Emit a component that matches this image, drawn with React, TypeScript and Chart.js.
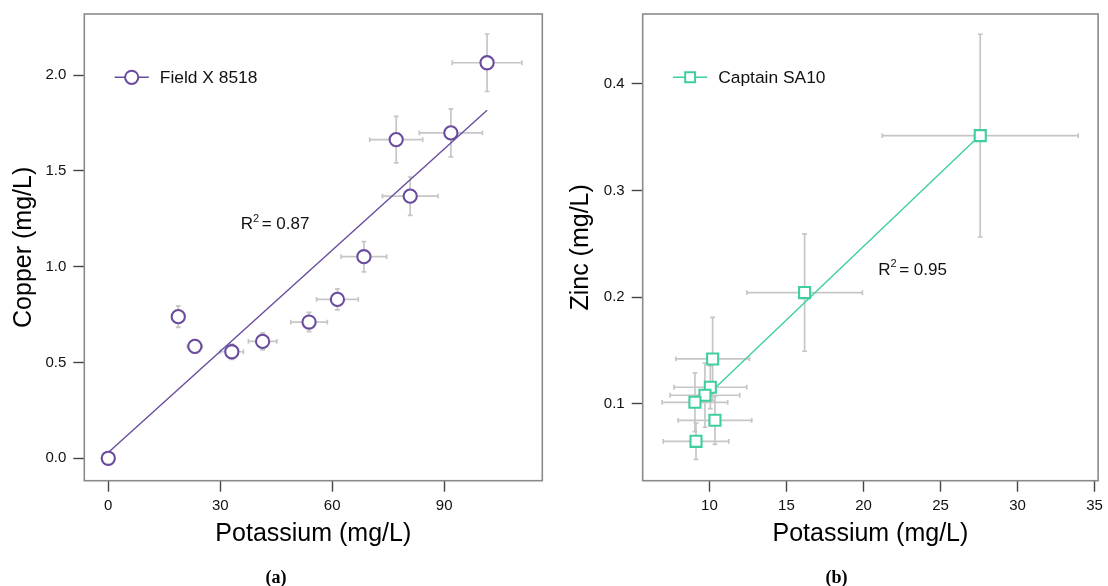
import React, { useEffect, useRef } from "react";
import { Chart, registerables } from "chart.js";

Chart.register(...registerables);

// ---------- Panel (a): Field X 8518 ----------
const copperLabel = "Field X 8518";
const copperK = [0, 18.75, 23.2, 33.1, 41.35, 53.8, 61.4, 68.5, 77.15, 80.9, 91.8, 101.5];
const copperVal = [0, 0.739, 0.584, 0.556, 0.61, 0.711, 0.829, 1.052, 1.663, 1.368, 1.698, 2.064];
const copperKErr = [0, 1.0, 2.0, 3.1, 3.8, 4.9, 5.6, 6.1, 7.1, 7.45, 8.44, 9.33];
const copperValErr = [0, 0.056, 0.035, 0.04, 0.044, 0.05, 0.055, 0.079, 0.121, 0.1, 0.125, 0.15];
const copperFitK = [0, 101.5];
const copperFitVal = [0.03, 1.816];
const copperXTicks = [0, 30, 60, 90];
const copperYTicks = [0, 0.5, 1.0, 1.5, 2.0];
const copperR2 = "0.87";

// ---------- Panel (b): Captain SA10 ----------
const zincLabel = "Captain SA10";
const zincK = [27.58, 16.18, 10.21, 10.06, 9.71, 9.06, 10.36, 9.13];
const zincVal = [0.3515, 0.2044, 0.1422, 0.1157, 0.1082, 0.1016, 0.0847, 0.065];
const zincKErr = [6.36, 3.75, 2.39, 2.36, 2.26, 2.13, 2.39, 2.13];
const zincValErr = [0.095, 0.055, 0.039, 0.02, 0.03, 0.0275, 0.0225, 0.017];
const zincFitK = [9.06, 27.58];
const zincFitVal = [0.097, 0.352];
const zincXTicks = [10, 15, 20, 25, 30, 35];
const zincYTicks = [0.1, 0.2, 0.3, 0.4];
const zincR2 = "0.95";

const FONT = '"Liberation Sans", Arial, Helvetica, sans-serif';

type PanelProps = {
  left: number;
  width: number;
  height: number;
  xs: number[];
  ys: number[];
  xErr: number[];
  yErr: number[];
  fitX: number[];
  fitY: number[];
  color: string;
  pointStyle: "circle" | "rect";
  pointRadius: number;
  legendRadius: number;
  label: string;
  xTitle: string;
  yTitle: string;
  xMin: number;
  xMax: number;
  yMin: number;
  yMax: number;
  xTicks: number[];
  yTicks: number[];
  xDecimals: number;
  yDecimals: number;
  r2: string;
  r2X: number;
  r2Y: number;
  yAxisWidth: number;
  padRight: number;
  padTop: number;
  xAxisHeight: number;
  yTitlePad: number;
  xTitlePad: number;
  caption: string;
  captionX: number;
};

function Panel(p: PanelProps) {
  const ref = useRef<HTMLCanvasElement | null>(null);

  useEffect(() => {
    if (!ref.current) return;
    const ctx0 = ref.current.getContext("2d");
    if (!ctx0) return;

    const errorBars = {
      id: "errorBars",
      beforeDatasetsDraw(chart: any) {
        const { ctx, chartArea, scales } = chart;
        const sx = scales.x;
        const sy = scales.y;
        ctx.save();
        ctx.beginPath();
        ctx.rect(chartArea.left, chartArea.top, chartArea.right - chartArea.left, chartArea.bottom - chartArea.top);
        ctx.clip();
        ctx.strokeStyle = "#c6c6c6";
        ctx.lineWidth = 1.7;
        const cap = 2.4;
        for (let i = 0; i < p.xs.length; i++) {
          const cx = sx.getPixelForValue(p.xs[i]);
          const cy = sy.getPixelForValue(p.ys[i]);
          if (p.xErr[i] > 0) {
            const x1 = sx.getPixelForValue(p.xs[i] - p.xErr[i]);
            const x2 = sx.getPixelForValue(p.xs[i] + p.xErr[i]);
            ctx.beginPath();
            ctx.moveTo(x1, cy);
            ctx.lineTo(x2, cy);
            ctx.moveTo(x1, cy - cap);
            ctx.lineTo(x1, cy + cap);
            ctx.moveTo(x2, cy - cap);
            ctx.lineTo(x2, cy + cap);
            ctx.stroke();
          }
          if (p.yErr[i] > 0) {
            const y1 = sy.getPixelForValue(p.ys[i] - p.yErr[i]);
            const y2 = sy.getPixelForValue(p.ys[i] + p.yErr[i]);
            ctx.beginPath();
            ctx.moveTo(cx, y1);
            ctx.lineTo(cx, y2);
            ctx.moveTo(cx - cap, y1);
            ctx.lineTo(cx + cap, y1);
            ctx.moveTo(cx - cap, y2);
            ctx.lineTo(cx + cap, y2);
            ctx.stroke();
          }
        }
        ctx.restore();
      },
    };

    const drawMarker = (ctx: CanvasRenderingContext2D, x: number, y: number, r: number) => {
      ctx.save();
      ctx.fillStyle = "#ffffff";
      ctx.strokeStyle = p.color;
      ctx.lineWidth = 2;
      ctx.beginPath();
      if (p.pointStyle === "circle") {
        ctx.arc(x, y, r, 0, Math.PI * 2);
      } else {
        const s = r * Math.SQRT1_2;
        ctx.rect(x - s, y - s, 2 * s, 2 * s);
      }
      ctx.fill();
      ctx.stroke();
      ctx.restore();
    };

    const decorations = {
      id: "decorations",
      afterDatasetsDraw(chart: any) {
        const { ctx, chartArea, scales } = chart;
        // frame
        ctx.save();
        ctx.strokeStyle = "#8a8a8a";
        ctx.lineWidth = 1.6;
        ctx.strokeRect(chartArea.left, chartArea.top, chartArea.right - chartArea.left, chartArea.bottom - chartArea.top);
        ctx.restore();

        // legend
        const ly = chartArea.top + 63.3;
        const lx1 = chartArea.left + 30.3;
        const lx2 = chartArea.left + 64.5;
        ctx.save();
        ctx.strokeStyle = p.color;
        ctx.lineWidth = 1.4;
        ctx.beginPath();
        ctx.moveTo(lx1, ly);
        ctx.lineTo(lx2, ly);
        ctx.stroke();
        ctx.restore();
        drawMarker(ctx, (lx1 + lx2) / 2, ly, p.legendRadius);
        ctx.save();
        ctx.fillStyle = "#111";
        ctx.font = `17.4px ${FONT}`;
        ctx.textAlign = "left";
        ctx.textBaseline = "middle";
        ctx.fillText(p.label, chartArea.left + 75.5, ly + 0.5);
        ctx.restore();

        // R^2 annotation
        const rx = scales.x.getPixelForValue(p.r2X);
        const ry = scales.y.getPixelForValue(p.r2Y);
        const base = ry + 6.5;
        ctx.save();
        ctx.fillStyle = "#111";
        ctx.textAlign = "left";
        ctx.textBaseline = "alphabetic";
        ctx.font = `17px ${FONT}`;
        ctx.fillText("R", rx, base);
        let cx = rx + ctx.measureText("R").width;
        ctx.font = `11px ${FONT}`;
        ctx.fillText("2", cx, base - 7.5);
        cx += ctx.measureText("2").width + 2.5;
        ctx.font = `17px ${FONT}`;
        ctx.fillText("= " + p.r2, cx, base);
        ctx.restore();
      },
    };

    const tickFont = { family: FONT, size: 15 };
    const titleFont = { family: FONT, size: 25 };

    const chart = new Chart(ctx0, {
      type: "scatter",
      data: {
        datasets: [
          {
            label: p.label,
            data: p.xs.map((x, i) => ({ x, y: p.ys[i] })),
            pointStyle: p.pointStyle,
            pointRadius: p.pointRadius,
            pointHoverRadius: p.pointRadius,
            borderColor: p.color,
            backgroundColor: "#ffffff",
            pointBorderWidth: 2.1,
            borderWidth: 2.1,
            showLine: false,
          },
          {
            label: "fit",
            data: p.fitX.map((x, i) => ({ x, y: p.fitY[i] })),
            showLine: true,
            pointRadius: 0,
            pointHoverRadius: 0,
            borderColor: p.color,
            backgroundColor: p.color,
            borderWidth: 1.4,
            fill: false,
          },
        ],
      },
      options: {
        responsive: false,
        animation: false,
        events: [],
        layout: { padding: { left: 0, top: p.padTop, right: p.padRight, bottom: 0 } },
        plugins: { legend: { display: false }, tooltip: { enabled: false } },
        scales: {
          x: {
            type: "linear",
            min: p.xMin,
            max: p.xMax,
            afterBuildTicks: (s: any) => {
              s.ticks = p.xTicks.map((v) => ({ value: v }));
            },
            afterFit: (s: any) => {
              s.height = p.xAxisHeight;
              s.paddingLeft = 0;
              s.paddingRight = 0;
              s.paddingTop = 0;
              s.paddingBottom = 0;
            },
            grid: {
              display: true,
              drawOnChartArea: false,
              drawTicks: true,
              tickLength: 11,
              tickColor: "#444",
              tickWidth: 1.4,
            },
            border: { display: false },
            ticks: {
              autoSkip: false,
              maxRotation: 0,
              padding: 5,
              color: "#111",
              font: tickFont,
              callback: (v: any) => Number(v).toFixed(p.xDecimals),
            },
            title: {
              display: true,
              text: p.xTitle,
              color: "#000",
              font: titleFont,
              padding: { top: 0, bottom: p.xTitlePad },
            },
          },
          y: {
            type: "linear",
            min: p.yMin,
            max: p.yMax,
            afterBuildTicks: (s: any) => {
              s.ticks = p.yTicks.map((v) => ({ value: v }));
            },
            afterFit: (s: any) => {
              s.width = p.yAxisWidth;
              s.paddingLeft = 0;
              s.paddingRight = 0;
              s.paddingTop = 0;
              s.paddingBottom = 0;
            },
            grid: {
              display: true,
              drawOnChartArea: false,
              drawTicks: true,
              tickLength: 11,
              tickColor: "#444",
              tickWidth: 1.4,
            },
            border: { display: false },
            ticks: {
              autoSkip: false,
              padding: 7,
              color: "#111",
              font: tickFont,
              callback: (v: any) => Number(v).toFixed(p.yDecimals),
            },
            title: {
              display: true,
              text: p.yTitle,
              color: "#000",
              font: titleFont,
              padding: { top: p.yTitlePad, bottom: 0 },
            },
          },
        },
      },
      plugins: [errorBars, decorations],
    } as any);

    return () => {
      chart.destroy();
    };
  }, []);

  return (
    <>
      <canvas
        ref={ref}
        width={p.width}
        height={p.height}
        style={{ position: "absolute", left: p.left, top: 0, width: p.width, height: p.height }}
      />
      <div
        style={{
          position: "absolute",
          left: p.captionX - 50,
          width: 100,
          top: 566,
          textAlign: "center",
          fontFamily: '"Liberation Serif", "Times New Roman", serif',
          fontWeight: "bold",
          fontSize: 18,
          lineHeight: "22px",
          color: "#000",
        }}
      >
        {p.caption}
      </div>
    </>
  );
}

export default function App() {
  return (
    <div
      style={{
        position: "fixed",
        left: 0,
        top: 0,
        width: 1108,
        height: 586,
        background: "#ffffff",
        overflow: "hidden",
      }}
    >
      <Panel
        left={0}
        width={554}
        height={586}
        xs={copperK}
        ys={copperVal}
        xErr={copperKErr}
        yErr={copperValErr}
        fitX={copperFitK}
        fitY={copperFitVal}
        color="#6a4c9f"
        pointStyle="circle"
        pointRadius={6.6}
        legendRadius={6.6}
        label={copperLabel}
        xTitle="Potassium (mg/L)"
        yTitle="Copper (mg/L)"
        xMin={-6.43}
        xMax={116.3}
        yMin={-0.117}
        yMax={2.3185}
        xTicks={copperXTicks}
        yTicks={copperYTicks}
        xDecimals={0}
        yDecimals={1}
        r2={copperR2}
        r2X={35.5}
        r2Y={1.23}
        yAxisWidth={84.3}
        padRight={11.7}
        padTop={14}
        xAxisHeight={105.3}
        yTitlePad={9}
        xTitlePad={37}
        caption="(a)"
        captionX={276}
      />
      <Panel
        left={554}
        width={554}
        height={586}
        xs={zincK}
        ys={zincVal}
        xErr={zincKErr}
        yErr={zincValErr}
        fitX={zincFitK}
        fitY={zincFitVal}
        color="#3ecf9c"
        pointStyle="rect"
        pointRadius={7.8}
        legendRadius={7}
        label={zincLabel}
        xTitle="Potassium (mg/L)"
        yTitle="Zinc (mg/L)"
        xMin={5.67}
        xMax={35.23}
        yMin={0.0281}
        yMax={0.4655}
        xTicks={zincXTicks}
        yTicks={zincYTicks}
        xDecimals={0}
        yDecimals={1}
        r2={zincR2}
        r2X={20.96}
        r2Y={0.227}
        yAxisWidth={88.7}
        padRight={8}
        padTop={14}
        xAxisHeight={105.3}
        yTitlePad={11.7}
        xTitlePad={37}
        caption="(b)"
        captionX={836.4}
      />
    </div>
  );
}
